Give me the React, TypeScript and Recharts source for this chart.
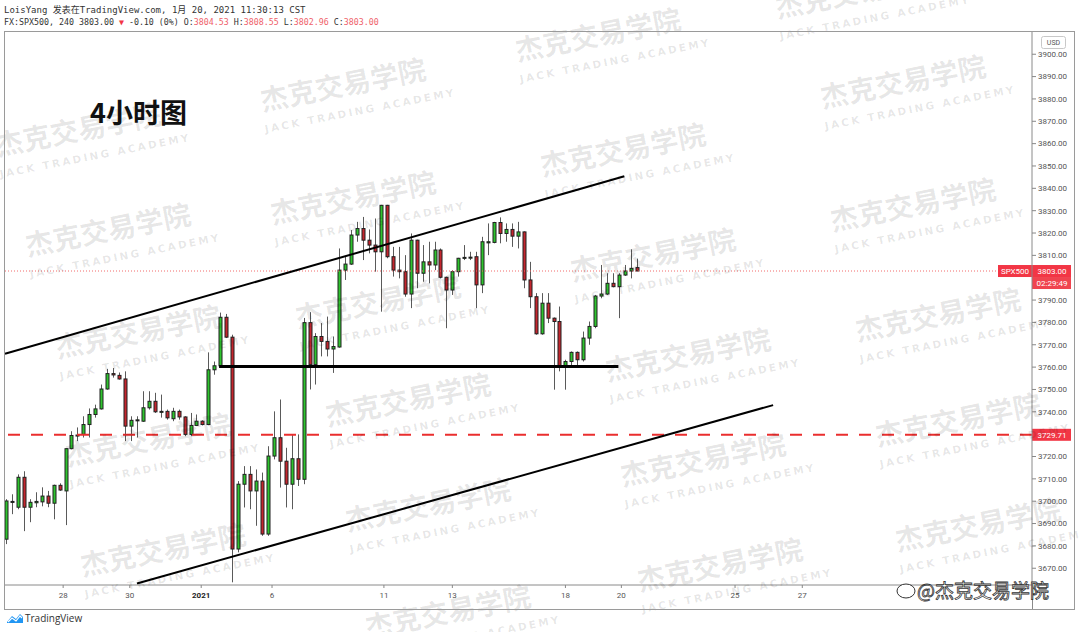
import React from 'react';
import { ComposedChart, Bar, XAxis, YAxis, ReferenceLine } from 'recharts';

// 4h candles, FX:SPX500, Dec 24 2020 .. Jan 20 2021
const opens = [
  3683.0, 3699.5, 3697.3, 3710.7, 3697.3, 3699.3, 3699.7, 3702.3, 3699.1, 3707.1,
  3704.6, 3723.5, 3729.4, 3729.9, 3734.3, 3738.8, 3741.3, 3750.2, 3757.1, 3756.3,
  3754.7, 3733.6, 3736.2, 3735.8, 3741.8, 3744.7, 3740.0, 3740.2, 3736.9, 3740.2,
  3737.7, 3729.9, 3733.9, 3735.8, 3734.3, 3758.8, 3760.6, 3782.3, 3773.4, 3678.6,
  3707.6, 3712.0, 3704.6, 3709.0, 3685.3, 3720.2, 3728.4, 3717.9, 3707.6, 3719.0,
  3709.8, 3779.9, 3761.1, 3773.7, 3771.5, 3768.1, 3769.0, 3803.4, 3806.1, 3819.1,
  3822.0, 3816.8, 3814.6, 3811.6, 3832.4, 3809.4, 3803.4, 3802.7, 3792.7, 3816.8,
  3802.0, 3807.1, 3805.7, 3812.4, 3800.2, 3794.5, 3802.7, 3808.7, 3809.1, 3809.4,
  3796.8, 3815.6, 3815.8, 3824.7, 3819.8, 3821.6, 3818.6, 3820.5, 3799.0, 3791.5,
  3774.9, 3788.6, 3781.9, 3780.4, 3760.3, 3762.5, 3766.6, 3763.3, 3773.0, 3778.2,
  3791.8, 3792.7, 3797.5, 3796.0, 3801.2, 3803.0, 3804.53,
];
const highs = [
  3700.9, 3703.1, 3712.0, 3713.4, 3700.9, 3704.0, 3706.2, 3704.6, 3707.4, 3708.0,
  3723.6, 3731.3, 3733.0, 3738.0, 3741.5, 3743.2, 3752.2, 3759.2, 3759.6, 3757.6,
  3758.1, 3738.0, 3738.0, 3749.2, 3749.2, 3748.5, 3747.7, 3741.0, 3741.8, 3741.0,
  3738.0, 3739.5, 3738.8, 3736.2, 3766.6, 3762.5, 3784.4, 3783.8, 3774.5, 3709.0,
  3715.7, 3715.7, 3714.2, 3712.8, 3724.6, 3740.2, 3745.5, 3723.9, 3729.9, 3729.9,
  3782.0, 3784.6, 3775.2, 3779.7, 3782.6, 3773.7, 3813.1, 3809.4, 3821.3, 3825.0,
  3827.2, 3821.6, 3826.5, 3832.6, 3832.6, 3813.8, 3813.8, 3810.1, 3819.8, 3817.0,
  3814.6, 3816.1, 3816.1, 3813.1, 3800.5, 3803.4, 3808.9, 3814.6, 3811.6, 3811.6,
  3818.3, 3824.3, 3825.0, 3827.0, 3824.3, 3824.3, 3825.0, 3820.7, 3807.1, 3793.1,
  3793.1, 3793.1, 3782.2, 3787.1, 3763.3, 3767.0, 3767.0, 3775.9, 3780.4, 3792.3,
  3805.7, 3802.0, 3802.0, 3802.0, 3805.7, 3812.7, 3808.55,
];
const lows = [
  3680.8, 3694.2, 3696.4, 3686.6, 3690.6, 3697.3, 3697.7, 3697.3, 3691.9, 3704.6,
  3689.3, 3723.2, 3726.9, 3728.5, 3728.5, 3737.4, 3741.0, 3749.9, 3755.3, 3754.4,
  3726.9, 3726.9, 3728.5, 3735.5, 3741.0, 3739.5, 3737.4, 3736.5, 3735.8, 3736.5,
  3729.1, 3729.1, 3733.6, 3733.9, 3734.0, 3756.6, 3760.3, 3773.0, 3663.7, 3677.1,
  3697.2, 3696.4, 3689.0, 3684.5, 3684.5, 3718.7, 3706.1, 3697.2, 3696.4, 3706.8,
  3707.6, 3750.0, 3752.2, 3764.8, 3764.8, 3757.4, 3768.7, 3799.0, 3805.7, 3816.1,
  3807.9, 3810.9, 3802.7, 3784.8, 3808.7, 3800.5, 3799.7, 3791.5, 3786.4, 3795.3,
  3798.2, 3797.5, 3803.4, 3799.7, 3777.4, 3792.3, 3800.5, 3807.9, 3807.9, 3786.4,
  3793.1, 3810.1, 3815.4, 3815.4, 3816.1, 3813.8, 3813.1, 3795.3, 3786.4, 3774.5,
  3774.5, 3779.7, 3749.9, 3758.1, 3749.9, 3760.3, 3760.3, 3762.5, 3770.0, 3777.4,
  3790.8, 3792.3, 3795.7, 3781.9, 3800.8, 3799.7, 3802.96,
];
const closes = [
  3700.1, 3699.9, 3710.7, 3697.3, 3699.5, 3699.9, 3702.3, 3699.1, 3707.1, 3705.0,
  3723.5, 3729.4, 3729.6, 3734.3, 3738.8, 3741.3, 3750.2, 3757.1, 3756.5, 3754.7,
  3733.6, 3736.2, 3736.4, 3741.8, 3744.7, 3740.0, 3740.2, 3737.3, 3740.2, 3737.7,
  3729.9, 3733.9, 3735.8, 3734.3, 3758.8, 3760.6, 3782.3, 3773.4, 3678.6, 3707.6,
  3712.0, 3704.6, 3709.0, 3685.3, 3720.2, 3728.4, 3717.9, 3707.6, 3719.0, 3709.8,
  3779.9, 3761.1, 3773.7, 3771.5, 3768.1, 3769.2, 3803.4, 3806.1, 3819.1, 3822.0,
  3816.8, 3814.6, 3811.6, 3832.4, 3809.4, 3803.4, 3802.7, 3792.7, 3816.8, 3802.0,
  3807.1, 3805.7, 3812.4, 3800.2, 3794.5, 3802.7, 3808.7, 3809.1, 3809.2, 3796.8,
  3816.1, 3816.1, 3824.7, 3819.8, 3821.6, 3818.6, 3820.5, 3799.0, 3791.5, 3774.9,
  3788.6, 3781.9, 3780.4, 3760.3, 3762.5, 3766.6, 3763.3, 3773.0, 3778.2, 3791.8,
  3792.7, 3797.5, 3796.0, 3801.2, 3803.0, 3804.2, 3803.0,
];

// time axis (bar index positions) and labels
const xTickPos = [9.6, 20.8, 32.8, 44.7, 63.5, 75, 94, 103.4, 122.5, 133.8];
const xTickLabels = ['28', '30', '2021', '6', '11', '13', '18', '20', '25', '27'];
// 3730 / 3800 sit under the price tags in the original, so they are not shown
const priceTicks = [
  3670, 3680, 3690, 3700, 3710, 3720, 3740, 3750, 3760, 3770, 3780,
  3790, 3810, 3820, 3830, 3840, 3850, 3860, 3870, 3880, 3890, 3900,
];

const lastPrice = 3803.0;
const alertPrice = 3729.71;
const supportPrice = 3760.3;
const supportSpan = [35.8, 102.9];
const upperChannel = [{ x: -0.17, y: 3766.0 }, { x: 103.9, y: 3845.4 }];
const lowerChannel = [{ x: 22.0, y: 3663.2 }, { x: 128.9, y: 3743.0 }];

const watermarks = [
  [80, 140], [345, 95], [600, 45], [860, 2],
  [110, 240], [355, 208], [625, 160], [905, 92],
  [140, 342], [380, 312], [655, 265], [915, 215],
  [150, 450], [410, 410], [690, 365], [940, 325],
  [165, 560], [430, 515], [705, 470], [960, 430],
  [450, 622], [722, 575], [980, 535],
];

const RED = '#f23645';
const GREEN = '#2ec42e';
const DRED = '#c4262e';

function Candle(props: any) {
  const { x, y, width, height, payload } = props;
  if (!payload || x == null || y == null) return null;
  const top = Math.min(y, y + height);
  const bot = Math.max(y, y + height);
  const span = payload.h - payload.l;
  const px = (v: number) => (span > 0 ? top + ((payload.h - v) / span) * (bot - top) : top);
  const cx = Math.round(x + width / 2) + 0.5;
  const up = payload.c >= payload.o;
  const bTop = px(Math.max(payload.o, payload.c));
  let bH = px(Math.min(payload.o, payload.c)) - bTop;
  if (bH < 1) bH = 1;
  return (
    <g>
      <line x1={cx} x2={cx} y1={top} y2={bot} stroke="#5a5a5a" strokeWidth={1} />
      <rect x={cx - 1.5} y={bTop} width={3} height={bH} fill={up ? GREEN : DRED} stroke="#202020" strokeWidth={1} />
    </g>
  );
}

function XTick(props: any) {
  const { x, y, payload } = props;
  const k = xTickPos.indexOf(payload.value);
  const label = k >= 0 ? xTickLabels[k] : '';
  const bold = label === '2021';
  return (
    <text x={x} y={y + 8} textAnchor="middle" fontSize={8} fontFamily="Roboto"
      fill={bold ? '#222' : '#555'} fontWeight={bold ? 700 : 400}>{label}</text>
  );
}

function LastTag(props: any) {
  const vb = props.viewBox;
  if (!vb) return null;
  const yy = vb.y;
  const xr = vb.x + vb.width;
  return (
    <g fontFamily="Roboto" fontSize={8} fill="#fff">
      <rect x={xr - 34} y={yy - 6} width={34} height={12} fill={RED} />
      <text x={xr - 17} y={yy + 3} textAnchor="middle" fill="#fff">SPX500</text>
      <rect x={xr} y={yy - 6} width={39} height={12} fill={RED} />
      <text x={xr + 20} y={yy + 3} textAnchor="middle" fill="#fff">{lastPrice.toFixed(2)}</text>
      <rect x={xr} y={yy + 6} width={39} height={12} fill="#f0444f" />
      <text x={xr + 20} y={yy + 15} textAnchor="middle" fill="#fff">02:29:49</text>
    </g>
  );
}

function AlertTag(props: any) {
  const vb = props.viewBox;
  if (!vb) return null;
  const yy = vb.y;
  const xr = vb.x + vb.width;
  return (
    <g fontFamily="Roboto" fontSize={8}>
      <rect x={xr} y={yy - 6} width={39} height={12} fill={RED} />
      <text x={xr + 20} y={yy + 3} textAnchor="middle" fill="#fff">{alertPrice.toFixed(2)}</text>
    </g>
  );
}

export default function App() {
  const data = opens.map((o, i) => ({
    i, o, h: highs[i], l: lows[i], c: closes[i], range: [lows[i], highs[i]],
  }));
  const wmFill = 'rgba(0,0,0,0.10)';
  return (
    <div style={{ position: 'absolute', left: 0, top: 0, width: 1080, height: 632, background: '#fff', overflow: 'hidden' }}>
      <ComposedChart width={1080} height={632} data={data} margin={{ top: 31, right: 6, bottom: 22, left: 5 }}>
        <XAxis dataKey="i" type="number" domain={[-0.17, 172.4]} allowDataOverflow ticks={xTickPos}
          interval={0} tick={<XTick />} tickSize={3} tickLine={{ stroke: '#888' }}
          axisLine={{ stroke: '#8a8a8a' }} height={25} />
        <YAxis orientation="right" type="number" domain={[3662.5, 3910.4]} allowDataOverflow
          ticks={priceTicks} interval={0} width={42} tickSize={4} tickMargin={2}
          tickFormatter={(v: number) => v.toFixed(2)} tickLine={{ stroke: '#888' }}
          axisLine={{ stroke: '#8a8a8a' }} tick={{ fontSize: 8, fill: '#555', fontFamily: 'Roboto' }} />
        <ReferenceLine y={alertPrice} stroke="#ea2e2e" strokeWidth={2} strokeDasharray="12 11"
          ifOverflow="visible" label={(p: any) => <AlertTag {...p} />} />
        <ReferenceLine y={lastPrice} stroke="#f26b6b" strokeWidth={1} strokeDasharray="1 2"
          ifOverflow="visible" label={(p: any) => <LastTag {...p} />} />
        <Bar dataKey="range" barSize={4} isAnimationActive={false} shape={<Candle />} />
        <ReferenceLine segment={upperChannel} stroke="#000" strokeWidth={2} ifOverflow="visible" />
        <ReferenceLine segment={lowerChannel} stroke="#000" strokeWidth={2} ifOverflow="visible" />
        <ReferenceLine segment={[{ x: supportSpan[0], y: supportPrice }, { x: supportSpan[1], y: supportPrice }]}
          stroke="#000" strokeWidth={3} ifOverflow="visible" />
      </ComposedChart>
      <svg width={1080} height={632} style={{ position: 'absolute', left: 0, top: 0, pointerEvents: 'none' }}>
        {watermarks.map(([cx, cy], k) => (
          <g key={k} transform={`translate(${cx},${cy}) rotate(-11)`} fontFamily="'Noto Sans CJK SC', sans-serif" fontWeight={700}>
            <text textAnchor="middle" fontSize={28} fill={wmFill}>杰克交易学院</text>
            <text x={12} y={22} textAnchor="middle" fontSize={10.5} letterSpacing={2.4} fill={wmFill}
              fontFamily="'DejaVu Sans', sans-serif">JACK TRADING ACADEMY</text>
          </g>
        ))}
        <rect x={4.5} y={31.5} width={1070} height={578} fill="none" stroke="#9a9a9a" />
        <line x1={1032.5} x2={1032.5} y1={585} y2={609} stroke="#8a8a8a" />
        <rect x={1041.5} y={36.5} width={24} height={12} rx={2} fill="#fff" stroke="#c8c8c8" />
        <text x={1053.5} y={45} textAnchor="middle" fontSize={7} fill="#555" fontFamily="Roboto">USD</text>
        <text x={4} y={13} fontSize={9} fill="#333" fontFamily="'DejaVu Sans Mono', 'Noto Sans CJK SC', monospace">
          LoisYang 发表在TradingView.com, 1月 20, 2021 11:30:13 CST
        </text>
        <text x={4} y={25} fontSize={8.3} fill="#333" fontFamily="'DejaVu Sans Mono', monospace">
          <tspan>FX:SPX500, 240 3803.00 </tspan>
          <tspan fill={RED}>▼</tspan>
          <tspan> -0.10 (0%) O:</tspan><tspan fill="#ef5f6a">3804.53</tspan>
          <tspan> H:</tspan><tspan fill="#ef5f6a">3808.55</tspan>
          <tspan> L:</tspan><tspan fill="#ef5f6a">3802.96</tspan>
          <tspan> C:</tspan><tspan fill="#ef5f6a">3803.00</tspan>
        </text>
        <text x={90} y={123} fontSize={27} fontWeight={700} fill="#111" fontFamily="'Noto Sans CJK SC', sans-serif">4小时图</text>
        <g transform="translate(7,613)">
          <path d="M0 9 L5 3 L9 6 L13 1 L16 4 L16 10 L0 10 Z" fill="#2196f3" />
          <path d="M1 9 L5 5 L9 8 L13 3 L15 5" stroke="#fff" strokeWidth={1.2} fill="none" />
        </g>
        <text x={25} y={622} fontSize={10} fill="#333" fontFamily="'Open Sans', sans-serif">TradingView</text>
        <g fontFamily="'Noto Sans CJK SC', sans-serif">
          <ellipse cx={906} cy={591} rx={9} ry={7} fill="#fff" stroke="#333" strokeWidth={1} />
          <text x={917} y={598} fontSize={19} fill="#fff" stroke="#333" strokeWidth={0.8}>@杰克交易学院</text>
        </g>
      </svg>
    </div>
  );
}
